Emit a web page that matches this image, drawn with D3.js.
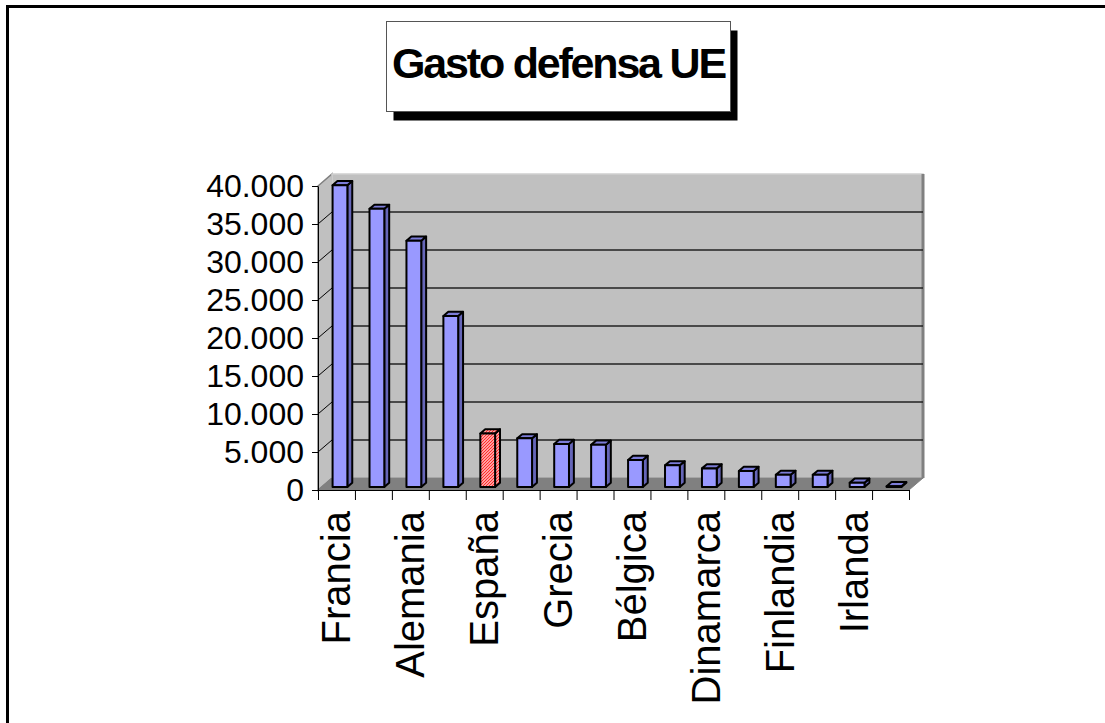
<!DOCTYPE html>
<html>
<head>
<meta charset="utf-8">
<script src="https://cdn.jsdelivr.net/npm/d3@7"></script>
<style>
  html, body { margin: 0; padding: 0; background: #ffffff; }
  svg { display: block; }
  text { font-family: "Liberation Sans", Arial, sans-serif; }
</style>
</head>
<body>
<svg id="chart" width="1105" height="723"></svg>
<script>
// ---- data ----
const categories = ["Francia", "Reino Unido", "Alemania", "Italia", "España", "Holanda",
  "Grecia", "Suecia", "Bélgica", "Portugal", "Dinamarca", "Noruega", "Finlandia",
  "Austria", "Irlanda", "Luxemburgo"];
const values = [39700, 36600, 32400, 22500, 7050, 6400, 5650, 5550, 3550, 2850,
  2450, 2100, 1600, 1600, 550, 100];
const highlighted = ["España"];
const yTicks = [0, 5000, 10000, 15000, 20000, 25000, 30000, 35000, 40000];
const title = "Gasto defensa UE";

// ---- layout ----
const W = 1105, H = 723;
const X0 = 318, X1 = 909, Y0 = 490, YTOP = 186;
const DX = 14, DY = -12;       // wall depth
const F0 = 0.25, F1 = 0.6;     // bar depth fractions

const svg = d3.select("#chart");
const loc = d3.formatLocale({ decimal: ",", thousands: ".", grouping: [3], currency: ["", "€"] });
const fmt = loc.format(",.0f");

// outer frame
svg.append("rect").attr("x", 7.5).attr("y", 6.5).attr("width", W + 20).attr("height", H + 20)
  .attr("fill", "none").attr("stroke", "#000").attr("stroke-width", 3);

// pattern for highlighted bar
const defs = svg.append("defs");
const pat = defs.append("pattern").attr("id", "hatch").attr("patternUnits", "userSpaceOnUse")
  .attr("width", 3).attr("height", 3);
pat.append("rect").attr("width", 3).attr("height", 3).attr("fill", "#ffffff");
pat.append("path").attr("d", "M-1,1 l2,-2 M0,3 l3,-3 M2,4 l2,-2")
  .attr("stroke", "#ff2a2a").attr("stroke-width", 1.3);

const x = d3.scaleBand().domain(categories).range([X0, X1]).padding(0);
const xb = d3.scaleLinear().domain([0, categories.length]).range([X0, X1]);
const y = d3.scaleLinear().domain([0, 40000]).range([Y0, YTOP]);

const poly = pts => "M" + pts.map(p => p.join(",")).join("L") + "Z";

// side wall
svg.append("path").attr("d", poly([[X0, y(40000)], [X0 + DX, y(40000) + DY], [X0 + DX, Y0 + DY], [X0, Y0]]))
  .attr("fill", "#c0c0c0").attr("stroke", "#808080").attr("stroke-width", 1.5);
// back wall
svg.append("path").attr("d", poly([[X0 + DX, y(40000) + DY], [X1 + DX, y(40000) + DY], [X1 + DX, Y0 + DY], [X0 + DX, Y0 + DY]]))
  .attr("fill", "#c0c0c0").attr("stroke", "#d0d0d0").attr("stroke-width", 1.5);
svg.append("line").attr("x1", X1 + DX).attr("x2", X1 + DX).attr("y1", y(40000) + DY).attr("y2", Y0 + DY)
  .attr("stroke", "#808080").attr("stroke-width", 3);
// floor
svg.append("path").attr("d", poly([[X0, Y0], [X1, Y0], [X1 + DX, Y0 + DY], [X0 + DX, Y0 + DY]]))
  .attr("fill", "#808080").attr("stroke", "#808080").attr("stroke-width", 1);

// gridlines
const grid = yTicks.filter(t => t > 0 && t < 40000);
svg.append("g").selectAll("line").data(grid).join("line")
  .attr("x1", X0 + DX).attr("x2", X1 + DX)
  .attr("y1", d => y(d) + DY).attr("y2", d => y(d) + DY)
  .attr("stroke", "#222").attr("stroke-width", 1.6);
svg.append("g").selectAll("line").data(grid).join("line")
  .attr("x1", X0).attr("x2", X0 + DX)
  .attr("y1", d => y(d)).attr("y2", d => y(d) + DY)
  .attr("stroke", "#000").attr("stroke-width", 1);

// bars
const bw = x.bandwidth() / 2.5;
const gBars = svg.append("g");
categories.forEach((c, i) => {
  const v = values[i];
  const hl = highlighted.includes(c);
  const cx = x(c) + x.bandwidth() / 2;
  const l = cx - bw / 2 + DX * F0, r = cx + bw / 2 + DX * F0;
  const b = Y0 + DY * F0, t = y(v) + DY * F0;
  const ox = DX * (F1 - F0), oy = DY * (F1 - F0);
  const g = gBars.append("g").attr("stroke", "#000").attr("stroke-width", 2).attr("stroke-linejoin", "round");
  g.append("path").attr("d", poly([[r, b], [r + ox, b + oy], [r + ox, t + oy], [r, t]]))
    .attr("fill", hl ? "url(#hatch)" : "#6666b8");
  g.append("path").attr("d", poly([[l, t], [r, t], [r + ox, t + oy], [l + ox, t + oy]]))
    .attr("fill", hl ? "url(#hatch)" : "#7c7cd8");
  g.append("path").attr("d", poly([[l, b], [r, b], [r, t], [l, t]]))
    .attr("fill", hl ? "url(#hatch)" : "#9999ff");
});

// y axis
const yAxis = svg.append("g").attr("transform", `translate(${X0},0)`)
  .call(d3.axisLeft(y).tickValues(yTicks).tickFormat(fmt).tickSize(6).tickSizeOuter(0).tickPadding(8));
yAxis.select(".domain").attr("stroke", "#000").attr("stroke-width", 1);
yAxis.selectAll(".tick line").attr("stroke", "#000");
yAxis.selectAll("text").attr("font-size", 32).attr("fill", "#000")
  .attr("font-family", "'Liberation Sans', Arial, sans-serif");

// x axis: boundary ticks
const xAxisT = svg.append("g").attr("transform", `translate(0,${Y0})`)
  .call(d3.axisBottom(xb).tickValues(d3.range(categories.length + 1)).tickFormat("").tickSize(10).tickSizeOuter(0));
xAxisT.select(".domain").attr("stroke", "#000");
xAxisT.selectAll(".tick line").attr("stroke", "#000");

// x axis labels
const xAxisL = svg.append("g").attr("transform", `translate(0,${Y0})`)
  .call(d3.axisBottom(x).tickValues(categories.filter((c, i) => i % 2 === 0)).tickSize(0));
xAxisL.select(".domain").remove();
xAxisL.selectAll("text")
  .attr("font-size", 40).attr("fill", "#000")
  .attr("font-family", "'Liberation Sans', Arial, sans-serif")
  .attr("transform", "rotate(-90)")
  .attr("text-anchor", "end")
  .attr("x", -21).attr("y", 0).attr("dy", "0.35em");

// title box
const tb = { x: 386.5, y: 21.5, w: 344, h: 90 };
svg.append("rect").attr("x", tb.x + 7).attr("y", tb.y + 9).attr("width", tb.w).attr("height", tb.h).attr("fill", "#000");
svg.append("rect").attr("x", tb.x).attr("y", tb.y).attr("width", tb.w).attr("height", tb.h)
  .attr("fill", "#fff").attr("stroke", "#555").attr("stroke-width", 1);
svg.append("text").attr("x", tb.x + tb.w / 2).attr("y", 78).attr("text-anchor", "middle")
  .attr("font-size", 43).attr("font-weight", "bold").attr("letter-spacing", "-2.2px")
  .attr("fill", "#000").text(title);
</script>
</body>
</html>
